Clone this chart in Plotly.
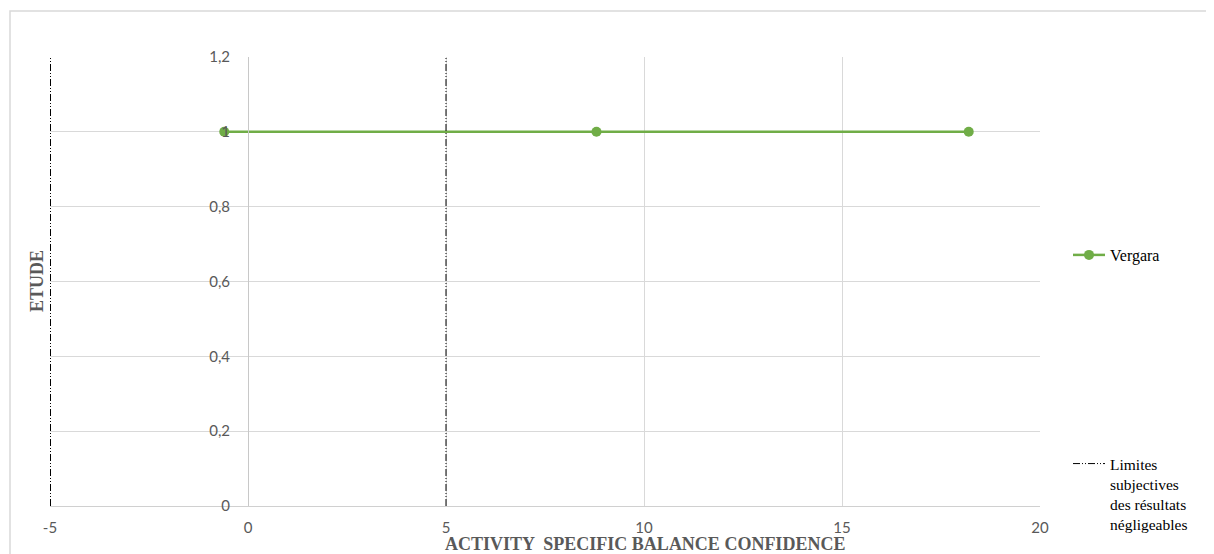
import plotly.graph_objects as go

# ---- data ----
vergara_x = [-0.6, 8.8, 18.2]
vergara_y = [1, 1, 1]
limit_left_x = [-5, -5]
limit_right_x = [5, 5]
limit_y = [0, 1.2]
x_ticks = [-5, 0, 5, 10, 15, 20]
x_tick_labels = ["-5", "0", "5", "10", "15", "20"]
y_ticks = [0, 0.2, 0.4, 0.6, 0.8, 1.0, 1.2]
y_tick_labels = ["0", "0,2", "0,4", "0,6", "0,8", "1", "1,2"]
series_names = ["Vergara", "Limites<br>subjectives<br>des résultats<br>négligeables"]
x_title = "ACTIVITY  SPECIFIC BALANCE CONFIDENCE"
y_title = "ETUDE"

OFF = 8  # page body margin
W, H = 1214 - OFF, 554 - OFF
L, T = 50 - OFF, 57 - OFF
R = W - (1040 - OFF)
B = H - (506 - OFF)
pw, ph = W - L - R, H - T - B

def px_x(p):
    return (p - OFF - L) / pw

def px_y(p):
    return (H - B - (p - OFF)) / ph

tick_font = dict(family="Lato", size=15, color="#595959")
xtitle_font = dict(family="Liberation Serif", size=18, color="#595959")
ytitle_font = dict(family="Liberation Serif", size=18, color="#595959")
legend_font = dict(family="Liberation Serif", size=16, color="#000000")
legend2_font = dict(family="Liberation Serif", size=15.5, color="#000000")
dash_style = "7px,2px,1px,2px,1px,2px"

fig = go.Figure()
fig.add_trace(go.Scatter(
    x=vergara_x, y=vergara_y, mode="lines+markers", name=series_names[0],
    line=dict(color="#70ad47", width=2.5),
    marker=dict(color="#70ad47", size=10),
    legend="legend", cliponaxis=False,
))
fig.add_trace(go.Scatter(
    x=limit_right_x, y=limit_y, mode="lines", name=series_names[1],
    line=dict(color="#000000", width=1, dash=dash_style),
    legend="legend2",
))
# left limit sits on the plot edge; half of it is clipped, so draw it wider
fig.add_trace(go.Scatter(
    x=limit_left_x, y=limit_y, mode="lines", name=series_names[1],
    line=dict(color="#000000", width=2, dash=dash_style),
    legend="legend2", showlegend=False,
))

fig.update_layout(
    width=W, height=H,
    margin=dict(l=L, r=R, t=T, b=B, autoexpand=False),
    paper_bgcolor="white", plot_bgcolor="white",
    showlegend=True,
    xaxis=dict(
        range=[-5, 20], tickvals=x_ticks, ticktext=x_tick_labels, domain=[0, 1],
        showgrid=True, gridcolor="#d9d9d9", gridwidth=1,
        zeroline=False, showline=True, linecolor="#d0d0d0", linewidth=1,
        ticks="", tickfont=tick_font, ticklabelstandoff=8, automargin=False,
    ),
    yaxis=dict(
        range=[0, 1.2], tickvals=y_ticks, ticktext=y_tick_labels,
        anchor="free", position=0.2,
        showgrid=True, gridcolor="#d9d9d9", gridwidth=1,
        zeroline=False, showline=True, linecolor="#c8c8c8", linewidth=1,
        ticks="", tickfont=tick_font, ticklabelstandoff=15, automargin=False,
    ),
    legend=dict(
        x=px_x(1068), y=px_y(255), xanchor="left", yanchor="middle",
        font=legend_font, bgcolor="rgba(0,0,0,0)",
        itemwidth=32,
    ),
    legend2=dict(
        x=px_x(1068), y=px_y(447), xanchor="left", yanchor="top",
        font=legend2_font, bgcolor="rgba(0,0,0,0)", valign="top",
        itemwidth=32,
    ),
    annotations=[
        dict(text="<b>" + x_title + "</b>", xref="paper", yref="paper",
             x=px_x(645), y=px_y(544), xanchor="center", yanchor="middle",
             showarrow=False, font=xtitle_font),
        dict(text="<b>" + y_title + "</b>", xref="paper", yref="paper",
             x=px_x(37), y=px_y(281), xanchor="center", yanchor="middle",
             textangle=-90, showarrow=False, font=ytitle_font),
    ],
    shapes=[
        dict(type="rect", xref="paper", yref="paper",
             x0=px_x(10), y0=px_y(600), x1=px_x(1300), y1=px_y(11),
             line=dict(color="#d9d9d9", width=1.5), fillcolor="rgba(0,0,0,0)",
             layer="below"),
    ],
)

fig.write_html("out.html")
